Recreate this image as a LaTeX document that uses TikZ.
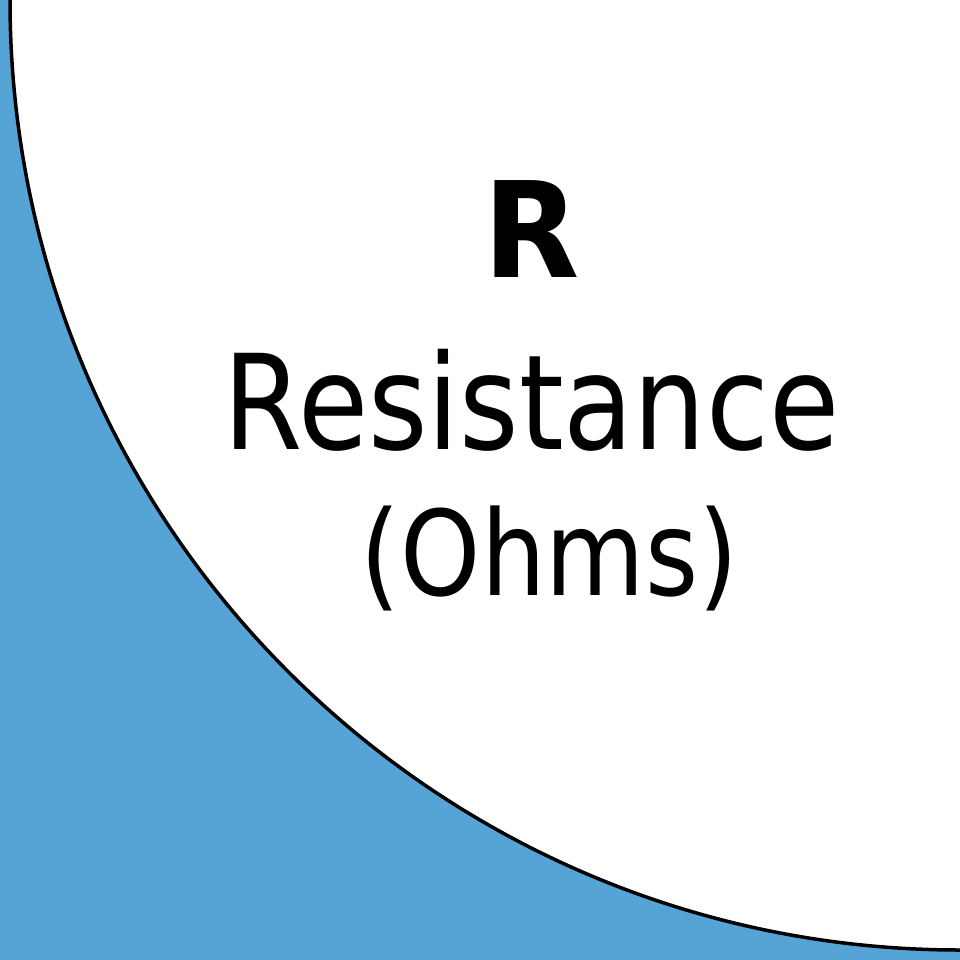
\documentclass[tikz,border=0pt]{standalone}
\usepackage{fontspec}
\setmainfont[FakeStretch=0.865]{DejaVu Sans}
\newfontfamily\symfont[FakeStretch=0.94]{DejaVu Sans}
\definecolor{quarterblue}{RGB}{86,164,213}
\begin{document}
\begin{tikzpicture}[x=1pt,y=-1pt,
  label text/.style={anchor=base,inner sep=0pt,text=black}]
\useasboundingbox (0,0) rectangle (960,960);
\fill[quarterblue] (0,0) rectangle (960,960);
\coordinate (ctr) at (960,0);
\fill[white] (ctr) -- (10,0) arc[start angle=180,end angle=90,radius=950] -- cycle;
\draw[line width=3.5pt] (10,0) arc[start angle=180,end angle=90,radius=950];
\node[label text,font=\fontsize{133}{140}\symfont\bfseries] (sym) at (531.5,277) {R};
\node[label text,font=\fontsize{132}{140}\selectfont] (name) at (531.5,449) {Resistance};
\node[label text,font=\fontsize{118}{125}\selectfont] (unit) at (549.5,595) {(Ohms)};
\end{tikzpicture}
\end{document}
